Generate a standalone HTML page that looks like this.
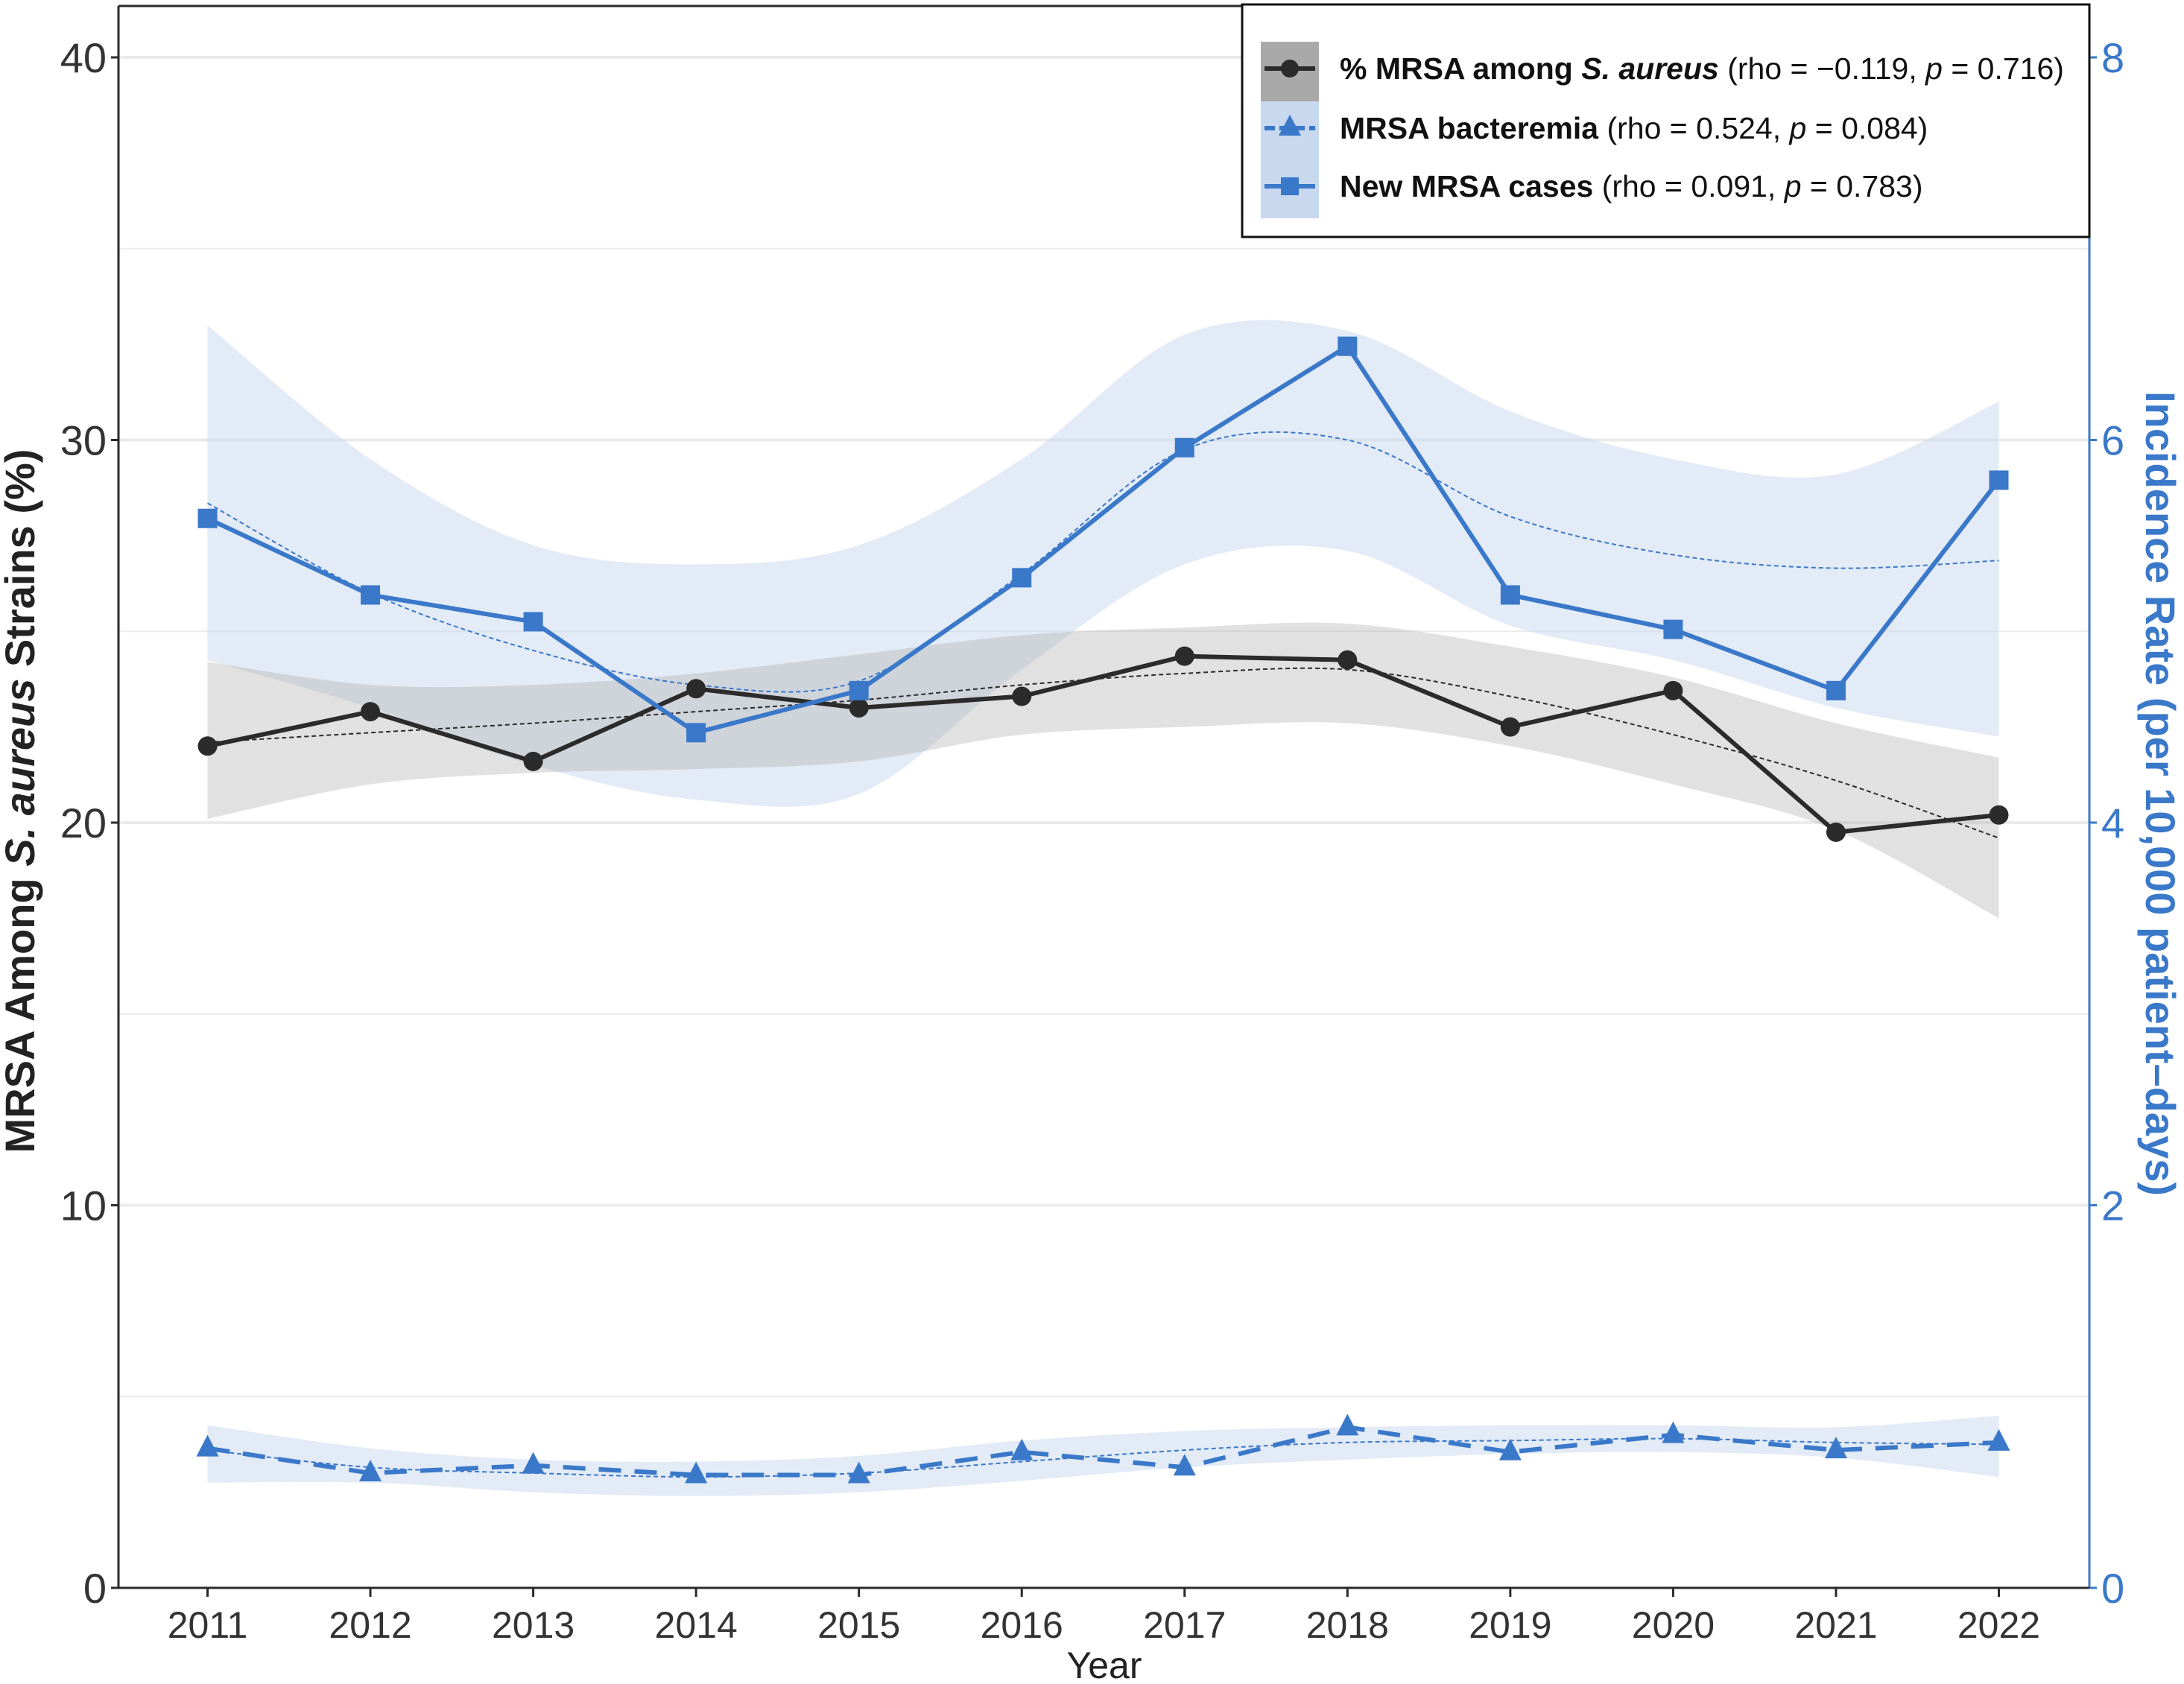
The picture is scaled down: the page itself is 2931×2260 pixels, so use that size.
<!DOCTYPE html>
<html><head><meta charset="utf-8"><style>
html,body{margin:0;padding:0;background:#fff}
svg{display:block}
text{font-family:"Liberation Sans",Arial,sans-serif}
</style></head><body>
<svg id="chart" width="2931" height="2260" viewBox="0 0 2931 2260" xmlns="http://www.w3.org/2000/svg">
<g id="grid"></g>
<g id="bands"></g>
<g id="lines"></g>
<g id="axes"></g>
<g id="legend"></g>
</svg>
<script>
const years = [2011,2012,2013,2014,2015,2016,2017,2018,2019,2020,2021,2022];
const mrsaPct = [22.0,22.9,21.6,23.5,23.0,23.3,24.35,24.25,22.5,23.45,19.75,20.2];
const mrsaPctFit = [22.1,22.35,22.6,22.9,23.2,23.6,23.9,24.0,23.3,22.3,21.1,19.6];
const mrsaPctHi = [24.2,23.6,23.6,23.9,24.4,24.9,25.1,25.2,24.6,23.8,22.6,21.7];
const mrsaPctLo = [20.1,21.0,21.3,21.4,21.6,22.3,22.5,22.6,22.0,21.0,19.8,17.5];
const newCases = [5.59,5.19,5.05,4.47,4.69,5.28,5.96,6.49,5.19,5.01,4.69,5.79];
const newCasesFit = [5.67,5.2,4.9,4.72,4.74,5.3,5.95,6.0,5.6,5.4,5.33,5.37];
const newCasesHi = [6.6,5.9,5.45,5.35,5.45,5.9,6.55,6.57,6.15,5.9,5.82,6.2];
const newCasesLo = [4.85,4.6,4.3,4.12,4.15,4.8,5.35,5.42,5.03,4.85,4.6,4.45];
const bact = [0.73,0.60,0.64,0.59,0.59,0.71,0.63,0.84,0.71,0.80,0.72,0.76];
const bactFit = [0.72,0.63,0.6,0.58,0.6,0.66,0.72,0.76,0.77,0.78,0.76,0.75];
const bactHi = [0.85,0.73,0.67,0.66,0.69,0.77,0.82,0.84,0.85,0.85,0.84,0.90];
const bactLo = [0.55,0.55,0.5,0.48,0.5,0.56,0.63,0.67,0.7,0.71,0.68,0.58];
const leftTicks = [0,10,20,30,40];
const rightTicks = [0,2,4,6,8];

const NS="http://www.w3.org/2000/svg";
const X0=159, X1=2804, YB=2131, YT=77;
const BLUE="#3a78c9", DARK="#2b2b2b";
const x = i => 278.5 + i*(2682.5-278.5)/11;
const yL = v => YB - v*(YB-YT)/40;
const yR = v => YB - v*(YB-YT)/8;
function mk(tag, attrs, parent){const e=document.createElementNS(NS,tag);for(const k in attrs)e.setAttribute(k,attrs[k]);parent.appendChild(e);return e;}
function smooth(pts){let d=`M${pts[0][0]},${pts[0][1]}`;for(let i=0;i<pts.length-1;i++){const p0=pts[i-1]||pts[i],p1=pts[i],p2=pts[i+1],p3=pts[i+2]||p2;const c1=[p1[0]+(p2[0]-p0[0])/6,p1[1]+(p2[1]-p0[1])/6],c2=[p2[0]-(p3[0]-p1[0])/6,p2[1]-(p3[1]-p1[1])/6];d+=` C${c1[0]},${c1[1]} ${c2[0]},${c2[1]} ${p2[0]},${p2[1]}`;}return d;}
function band(hi,lo,yf){const top=hi.map((v,i)=>[x(i),yf(v)]);const bot=lo.map((v,i)=>[x(i),yf(v)]).reverse();let d=smooth(top);d+=' L'+smooth(bot).slice(1)+' Z';return d;}
const grid=document.getElementById('grid'),bands=document.getElementById('bands'),lines=document.getElementById('lines'),axes=document.getElementById('axes'),legend=document.getElementById('legend');

for(let v=5;v<=40;v+=5){
  const g=mk('line',{x1:X0,x2:X1,y1:yL(v),y2:yL(v),stroke:'#ebebeb','stroke-width':v%10===0?4:2},grid);
  
  
}
let b=mk('path',{d:band(newCasesHi,newCasesLo,yR),fill:'#c8d8ee','fill-opacity':0.5},bands);


b=mk('path',{d:band(mrsaPctHi,mrsaPctLo,yL),fill:'#a9a9a9','fill-opacity':0.35},bands);


b=mk('path',{d:band(bactHi,bactLo,yR),fill:'#c8d8ee','fill-opacity':0.5},bands);


function fit(arr,yf,col,name){const p=mk('path',{d:smooth(arr.map((v,i)=>[x(i),yf(v)])),fill:'none',stroke:col,'stroke-width':2,'stroke-dasharray':'6,4'},lines);

}
fit(mrsaPctFit,yL,DARK,'mrsa-pct-trend');
fit(newCasesFit,yR,BLUE,'new-cases-trend');
fit(bactFit,yR,BLUE,'bacteremia-trend');
function series(arr,yf,col,name,dash){const p=mk('polyline',{points:arr.map((v,i)=>x(i)+','+yf(v)).join(' '),fill:'none',stroke:col,'stroke-width':6,'stroke-linejoin':'round'},lines);if(dash)p.setAttribute('stroke-dasharray',dash);

}
series(mrsaPct,yL,DARK,'mrsa-pct-line');
series(newCases,yR,BLUE,'new-cases-line');
series(bact,yR,BLUE,'bacteremia-line','30,18');
mrsaPct.forEach((v,i)=>{const c=mk('circle',{cx:x(i),cy:yL(v),r:13,fill:DARK},lines);

});
newCases.forEach((v,i)=>{const r=mk('rect',{x:x(i)-13,y:yR(v)-13,width:26,height:26,fill:BLUE},lines);

});
bact.forEach((v,i)=>{const cx=x(i),cy=yR(v);const t=mk('polygon',{points:`${cx},${cy-18} ${cx-15},${cy+11} ${cx+15},${cy+11}`,fill:BLUE},lines);

});
let a=mk('line',{x1:X0,x2:X0,y1:8,y2:YB,stroke:DARK,'stroke-width':3},axes);

a=mk('line',{x1:X0,x2:X1,y1:8,y2:8,stroke:DARK,'stroke-width':3},axes);

a=mk('line',{x1:X1,x2:X1,y1:8,y2:YB,stroke:BLUE,'stroke-width':3},axes);

a=mk('line',{x1:X0,x2:X1,y1:YB,y2:YB,stroke:DARK,'stroke-width':3},axes);

leftTicks.forEach(v=>{mk('line',{x1:X0-10,x2:X0,y1:yL(v),y2:yL(v),stroke:DARK,'stroke-width':3},axes);
const t=mk('text',{x:X0-16,y:yL(v)+20,'text-anchor':'end','font-size':56,fill:'#333'},axes);t.textContent=v;

});
rightTicks.forEach(v=>{mk('line',{x1:X1,x2:X1+10,y1:yR(v),y2:yR(v),stroke:BLUE,'stroke-width':3},axes);
const t=mk('text',{x:X1+16,y:yR(v)+20,'font-size':56,fill:BLUE},axes);t.textContent=v;

});
years.forEach((yv,i)=>{mk('line',{x1:x(i),x2:x(i),y1:YB,y2:YB+12,stroke:DARK,'stroke-width':3},axes);
const t=mk('text',{x:x(i),y:2198,'text-anchor':'middle','font-size':50,fill:'#333'},axes);t.textContent=yv;

});
</script>
<svg style="position:absolute;left:0;top:0" width="2931" height="2260" viewBox="0 0 2931 2260">
<text x="1482" y="2252" text-anchor="middle" font-size="50" fill="#222" font-family="Liberation Sans, sans-serif">Year</text>
<text transform="translate(46,1075) rotate(-90)" text-anchor="middle" font-size="56" font-weight="bold" fill="#222" font-family="Liberation Sans, sans-serif">MRSA Among <tspan font-style="italic">S. aureus</tspan> Strains (%)</text>
<text transform="translate(2880,1065) rotate(90)" text-anchor="middle" font-size="56" font-weight="bold" fill="#3a78c9" font-family="Liberation Sans, sans-serif">Incidence Rate (per 10,000 patient–days)</text>
<g font-family="Liberation Sans, sans-serif" font-size="41">
<rect x="1667" y="6" width="1137" height="312" fill="#fff" stroke="#111" stroke-width="3"/>
<rect x="1692" y="56" width="78" height="80" fill="#a9a9a9"/>
<rect x="1692" y="136" width="78" height="157" fill="#c8d8ee"/>
<g>
<line x1="1697" x2="1765" y1="92" y2="92" stroke="#2b2b2b" stroke-width="6"/><circle cx="1731" cy="92" r="12" fill="#2b2b2b"/>
<text x="1798" y="106" fill="#111"><tspan font-weight="bold">% MRSA among <tspan font-style="italic">S. aureus</tspan></tspan> (rho = −0.119, <tspan font-style="italic">p</tspan> = 0.716)</text></g>
<g>
<line x1="1697" x2="1765" y1="172" y2="172" stroke="#3a78c9" stroke-width="6" stroke-dasharray="14,6"/><polygon points="1731,154 1716,182 1746,182" fill="#3a78c9"/>
<text x="1798" y="186" fill="#111"><tspan font-weight="bold">MRSA bacteremia</tspan> (rho = 0.524, <tspan font-style="italic">p</tspan> = 0.084)</text></g>
<g>
<line x1="1697" x2="1765" y1="250" y2="250" stroke="#3a78c9" stroke-width="6"/><rect x="1719" y="238" width="24" height="24" fill="#3a78c9"/>
<text x="1798" y="264" fill="#111"><tspan font-weight="bold">New MRSA cases</tspan> (rho = 0.091, <tspan font-style="italic">p</tspan> = 0.783)</text></g>
</g>
</svg>
</body></html>
